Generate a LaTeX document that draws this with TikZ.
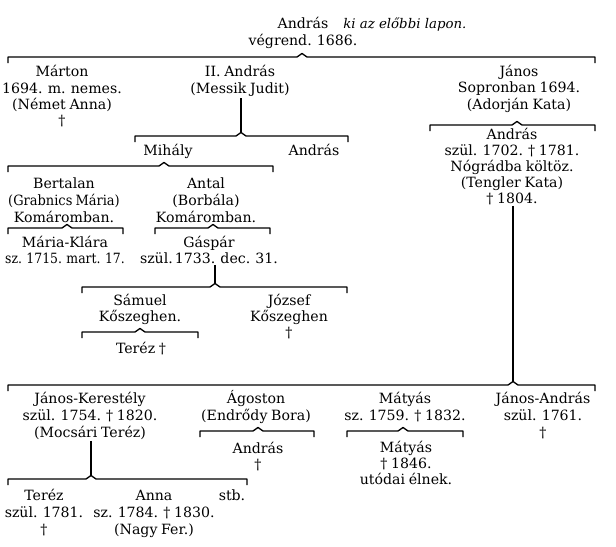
\documentclass[tikz,border=0pt]{standalone}
\usepackage{fontspec}
\setmainfont{DejaVu Serif}
\usetikzlibrary{calc}
\newcommand\pf[1]{\fontsize{10.6}{#1}\selectfont\spaceskip=0.26em plus 0.05em\relax}
\newcommand\narrow[2]{{\addfontfeatures{FakeStretch=#1}\spaceskip=0.22em\relax #2}}
\tikzset{
  person/.style={align=center, anchor=base, inner sep=1pt, font=\pf{12.4pt}},
  ls/.style={font=\pf{#1}},
  note/.style={anchor=base west, inner sep=0pt, font=\fontsize{10}{12}\selectfont\itshape},
  brk/.style={line width=1pt, line join=round},
}
% name, left x, right x, peak x, y
\newcommand\famline[5]{%
  \coordinate (#1) at (#4,#5-3.5);
  \draw[brk] (#2,#5+6) -- (#2,#5) -- (#4-5,#5) -- (#1) -- (#4+5,#5) -- (#3,#5) -- (#3,#5+6);
}
\begin{document}
\begin{tikzpicture}[x=0.75pt,y=-0.75pt]
\useasboundingbox[fill=white] (0,0) rectangle (616,546);

% top (anchor base = baseline of the last line)
\node[person, ls=12.75pt] (top) at (303,45) {András\\végrend. 1686.};
\node[note] (note) at (343,28) {ki az előbbi lapon.};
\famline{pk0}{8}{595}{302}{57}

% first generation
\node[person, ls=12.15pt] (marton) at (62,125.5) {Márton\\1694. m. nemes.\\(Német Anna)\\†};
\node[person, ls=12.4pt] (iiandras) at (240,93.5) {II. András\\(Messik Judit)};
\node[person, ls=12.15pt] (janos) at (519,109) {János\\Sopronban 1694.\\(Adorján Kata)};

% János branch
\famline{pk1}{430}{595}{517}{125}
\node[person, ls=12pt] (andrasJ) at (512,203) {András\\szül. 1702. † 1781.\\Nógrádba költöz.\\(Tengler Kata)\\† 1804.};

% II. András branch
\famline{pk2}{135}{348}{241}{136}
\draw[brk] (iiandras.south -| pk2) -- (pk2);
\node[person] (mihaly) at (168,155) {Mihály};
\node[person] (andras2) at (314,155) {András};

\famline{pk3}{8}{273}{164}{166}
\node[person, ls=12.75pt] (bertalan) at (64,222) {Bertalan\\\narrow{0.92}{(Grabnics Mária)}\\Komáromban.};
\node[person, ls=12.75pt] (antal) at (206,222) {Antal\\(Borbála)\\Komáromban.};

\famline{pk4}{8}{123}{67}{228}
\famline{pk5}{155}{270}{213}{228}
\node[person, ls=12pt] (mariaklara) at (65,263) {Mária-Klára\\\narrow{0.88}{sz. 1715. mart. 17.}};
\node[person, ls=12pt] (gaspar) at (209,263) {Gáspár\\szül.\kern1.5pt1733. dec. 31.};

\famline{pk6}{82}{347}{215}{287}
\draw[brk] (gaspar.south -| pk6) -- (pk6);
\node[person, ls=12pt] (samuel) at (140,321) {Sámuel\\Kőszeghen.};
\node[person, ls=12pt] (jozsef) at (289,337) {József\\Kőszeghen\\†};

\famline{pk7}{82}{198}{140}{332}
\node[person] (terez1) at (141,353) {Teréz †};

% András (János's son) descendants
\famline{pk8}{8}{595}{513}{385}
\draw[brk] (andrasJ.south -| pk8) -- (pk8);

\node[person, ls=12.75pt] (jk) at (90,437) {János-Kerestély\\szül. 1754. † 1820.\\(Mocsári Teréz)};
\node[person, ls=12.75pt] (agoston) at (256,420) {Ágoston\\(Endrődy Bora)};
\node[person, ls=12.75pt] (matyas) at (405,420) {Mátyás\\sz. 1759. † 1832.};
\node[person, ls=12.75pt] (janosandras) at (543,437) {János-András\\szül. 1761.\\†};

\famline{pk9}{200}{314}{258}{431}
\node[person, ls=12pt] (andras3) at (258,469) {András\\†};

\famline{pk10}{347}{463}{403}{431}
\node[person, ls=12pt] (matyas2) at (406,484) {Mátyás\\† 1846.\\utódai élnek.};

\famline{pk11}{8}{247}{91}{479}
\draw[brk] (jk.south -| pk11) -- (pk11);
\node[person, ls=12.75pt] (terez2) at (44,534) {Teréz\\szül. 1781.\\†};
\node[person, ls=12.75pt] (anna) at (154,534) {Anna\\sz. 1784. † 1830.\\(Nagy Fer.)};
\node[person] (stb) at (232,500) {stb.};
\end{tikzpicture}
\end{document}
